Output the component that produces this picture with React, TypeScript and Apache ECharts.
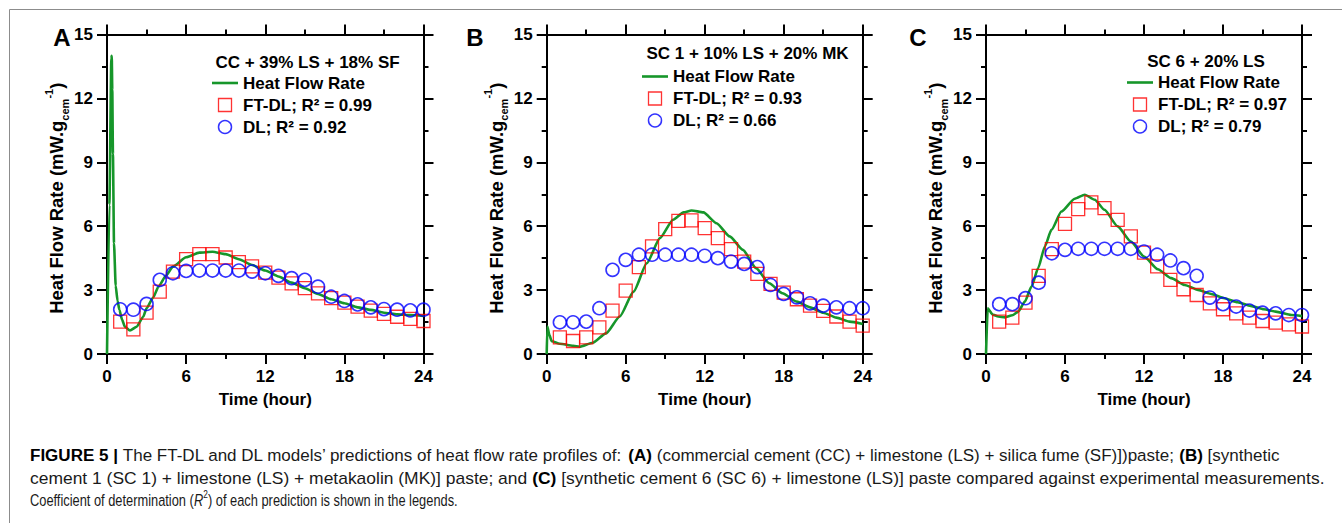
import React, { useEffect, useRef } from "react";
import * as echarts from "echarts";

// ---------- DATA ----------
const HOURS = [1, 2, 3, 4, 5, 6, 7, 8, 9, 10, 11, 12, 13, 14, 15, 16, 17, 18, 19, 20, 21, 22, 23, 24];

const A_FTDL = [1.52, 1.16, 1.94, 2.93, 3.87, 4.45, 4.69, 4.69, 4.53, 4.31, 4.11, 3.82, 3.59, 3.32, 3.09, 2.85, 2.62, 2.41, 2.22, 2.04, 1.88, 1.75, 1.65, 1.55];
const A_DL = [2.1, 2.08, 2.35, 3.48, 3.79, 3.9, 3.92, 3.92, 3.92, 3.92, 3.87, 3.79, 3.67, 3.56, 3.48, 3.16, 2.69, 2.49, 2.33, 2.19, 2.11, 2.08, 2.05, 2.08];
const A_LINE_T = [0, 0.18, 0.33, 0.36, 0.4, 0.45, 0.53, 0.66, 0.8, 0.94, 1.15, 1.36, 1.74, 2.25, 2.75, 3, 3.5, 3.9, 4.5, 5, 6, 7, 8, 9, 10, 11, 12, 13, 14, 15, 16, 17, 18, 19, 20, 21, 22, 23, 24];
const A_LINE_V = [0, 7, 13.9, 14, 12.4, 9.4, 5.2, 3.2, 2.5, 2.07, 1.6, 1.28, 1.1, 1.28, 1.75, 2.15, 2.65, 3.16, 3.7, 4.1, 4.54, 4.76, 4.8, 4.69, 4.45, 4.18, 3.92, 3.64, 3.35, 3.09, 2.82, 2.57, 2.38, 2.19, 2.07, 1.94, 1.86, 1.83, 1.79];

const B_FTDL = [0.78, 0.61, 0.78, 1.25, 2.04, 2.98, 4.08, 5.05, 5.86, 6.25, 6.27, 5.91, 5.44, 4.92, 4.34, 3.76, 3.29, 2.88, 2.57, 2.27, 2.02, 1.76, 1.52, 1.33];
const B_DL = [1.49, 1.49, 1.52, 2.15, 3.95, 4.42, 4.66, 4.66, 4.66, 4.66, 4.66, 4.61, 4.5, 4.34, 4.23, 4.08, 3.24, 2.82, 2.66, 2.38, 2.27, 2.19, 2.15, 2.15];
const B_LINE_T = [0, 0.05, 0.2, 0.38, 1, 2, 2.5, 3.5, 4.5, 5.55, 6.6, 7.6, 8.6, 9.6, 10.4, 11, 11.9, 12.9, 13.9, 14.9, 15.9, 16.9, 17.9, 19, 20, 21, 22, 23, 24];
const B_LINE_V = [0, 1.29, 0.9, 0.6, 0.48, 0.38, 0.34, 0.53, 0.97, 1.76, 2.93, 4.26, 5.44, 6.3, 6.65, 6.74, 6.65, 6.14, 5.52, 4.89, 4.03, 3.32, 2.85, 2.46, 2.19, 1.94, 1.71, 1.52, 1.41];

const C_FTDL = [1.52, 1.71, 2.41, 3.67, 4.92, 6.11, 6.8, 7.12, 6.85, 6.3, 5.52, 4.76, 4.11, 3.48, 3.04, 2.77, 2.38, 2.1, 1.91, 1.71, 1.55, 1.47, 1.39, 1.29];
const C_DL = [2.34, 2.34, 2.62, 3.35, 4.73, 4.89, 4.94, 4.94, 4.94, 4.94, 4.94, 4.81, 4.66, 4.39, 4.03, 3.67, 2.65, 2.34, 2.23, 2.04, 1.94, 1.91, 1.83, 1.83];
const C_LINE_T = [0, 0.13, 0.5, 0.93, 1.44, 2, 2.45, 2.95, 3.46, 3.96, 4.47, 4.97, 5.73, 6.74, 7.5, 8.26, 9, 10, 11, 12, 13.05, 14.07, 15.1, 16.1, 17.1, 18.1, 19.1, 20.1, 21.1, 22, 23.2, 24];
const C_LINE_V = [0, 2.15, 1.85, 1.76, 1.72, 1.82, 1.99, 2.46, 3.17, 4.03, 5.05, 5.83, 6.69, 7.29, 7.48, 7.24, 6.77, 5.99, 5.28, 4.58, 3.98, 3.56, 3.24, 3.01, 2.82, 2.62, 2.43, 2.26, 2.1, 1.99, 1.83, 1.78];

const PANEL_LETTERS = ["A", "B", "C"];
const PANEL_TITLES = ["CC + 39% LS + 18% SF", "SC 1 + 10% LS + 20% MK", "SC 6 + 20% LS"];
const LINE_NAME = "Heat Flow Rate";
const FTDL_NAMES = ["FT-DL; R² = 0.99", "FT-DL; R² = 0.93", "FT-DL; R² = 0.97"];
const DL_NAMES = ["DL; R² = 0.92", "DL; R² = 0.66", "DL; R² = 0.79"];
const X_MAX = 24;
const X_INTERVAL = 6;
const Y_MAX = 15;
const Y_INTERVAL = 3;
const X_TITLE = "Time (hour)";

const CAPTION_LINES = [
  [
    { text: "FIGURE 5 | ", bold: true },
    { text: "The FT-DL and DL models’ predictions of heat flow rate profiles of: " },
    { text: "(A)", bold: true },
    { text: " (commercial cement (CC) + limestone (LS) + silica fume (SF)])paste; " },
    { text: "(B)", bold: true },
    { text: " [synthetic" },
  ],
  [
    { text: "cement 1 (SC 1) + limestone (LS) + metakaolin (MK)] paste; and " },
    { text: "(C)", bold: true },
    { text: " [synthetic cement 6 (SC 6) + limestone (LS)] paste compared against experimental measurements." },
  ],
  [
    { text: "Coefficient of determination (" },
    { text: "R", italic: true },
    { text: "2", sup: true },
    { text: ") of each prediction is shown in the legends." },
  ],
];

// ---------- LAYOUT ----------
const FONT = '"Liberation Sans", Arial, Helvetica, sans-serif';
const GRID_TOP = 34.5;
const GRID_H = 319.5;
const LAYOUT = [
  { left: 107, width: 316.5, legendLeft: 212, legendTop: 74, titleX: 307.5, titleY: 62, letterX: 62, letterY: 37 },
  { left: 546.7, width: 316, legendLeft: 642, legendTop: 67.5, titleX: 747.5, titleY: 53, letterX: 475, letterY: 37 },
  { left: 986, width: 316, legendLeft: 1127, legendTop: 73.5, titleX: 1206, titleY: 61, letterX: 918, letterY: 37 },
];
const CAPTION_X = 30;
const CAPTION_Y = [456, 478, 500];
const CAPTION_W = [1249, 1295, 428];
const CAPTION_SIZE = 17;

const GREEN = "#16962a";

function measureLine(segs: any[]) {
  const ctx = document.createElement("canvas").getContext("2d");
  if (!ctx) return 1;
  let w = 0;
  for (const s of segs) {
    const size = s.sup ? 11 : CAPTION_SIZE;
    ctx.font = `${s.italic ? "italic " : ""}${s.bold ? "bold " : ""}${size}px "Liberation Sans"`;
    w += ctx.measureText(s.text).width;
  }
  return w;
}

function buildOption() {
  const lines = [
    { t: A_LINE_T, v: A_LINE_V, f: A_FTDL, d: A_DL },
    { t: B_LINE_T, v: B_LINE_V, f: B_FTDL, d: B_DL },
    { t: C_LINE_T, v: C_LINE_V, f: C_FTDL, d: C_DL },
  ];

  const axisLine = { show: true, onZero: false, lineStyle: { color: "#000", width: 2 } };
  const axisTick = { show: true, inside: false, length: 10, lineStyle: { color: "#000", width: 2 } };
  const minorTick = { show: true, splitNumber: 2, length: 5, lineStyle: { color: "#000", width: 2 } };
  const labelStyle = { fontSize: 17, fontWeight: "bold", color: "#000", fontFamily: FONT };

  const grid: any[] = [];
  const xAxis: any[] = [];
  const yAxis: any[] = [];
  const series: any[] = [];
  const legend: any[] = [];
  const graphic: any[] = [];

  LAYOUT.forEach((L, i) => {
    grid.push({ left: L.left, top: GRID_TOP, width: L.width, height: GRID_H, containLabel: false });
    xAxis.push({
      type: "value", gridIndex: i, position: "bottom", min: 0, max: X_MAX, interval: X_INTERVAL,
      axisLine, axisTick, minorTick, splitLine: { show: false }, minorSplitLine: { show: false },
      axisLabel: { ...labelStyle, margin: 14 },
      name: X_TITLE, nameLocation: "middle", nameGap: 37,
      nameTextStyle: { fontSize: 17, fontWeight: "bold", color: "#000", fontFamily: FONT },
    });
    xAxis.push({
      type: "value", gridIndex: i, position: "top", min: 0, max: X_MAX, interval: X_INTERVAL,
      axisLine, axisTick, minorTick, splitLine: { show: false }, axisLabel: { show: false },
    });
    yAxis.push({
      type: "value", gridIndex: i, position: "left", min: 0, max: Y_MAX, interval: Y_INTERVAL,
      axisLine, axisTick, minorTick, splitLine: { show: false }, minorSplitLine: { show: false },
      axisLabel: { ...labelStyle, margin: 14 },
      name: "{n|Heat Flow Rate (mW.g}{sub|cem}{sup|-1}{n|)}",
      nameLocation: "middle", nameRotate: 90, nameGap: 31,
      nameTextStyle: {
        fontFamily: FONT, color: "#000", padding: [0, 8, 0, 0],
        rich: {
          n: { fontSize: 18.5, fontWeight: "bold", lineHeight: 27, fontFamily: FONT, color: "#000" },
          sub: { fontSize: 11, fontWeight: "bold", lineHeight: 11, verticalAlign: "bottom", fontFamily: FONT, color: "#000" },
          sup: { fontSize: 11, fontWeight: "bold", lineHeight: 11, verticalAlign: "top", fontFamily: FONT, color: "#000" },
        },
      },
    });
    yAxis.push({
      type: "value", gridIndex: i, position: "right", min: 0, max: Y_MAX, interval: Y_INTERVAL,
      axisLine, axisTick, minorTick, splitLine: { show: false }, axisLabel: { show: false },
    });

    const d = lines[i];
    series.push({
      type: "line", name: LINE_NAME, xAxisIndex: 2 * i, yAxisIndex: 2 * i,
      data: d.t.map((t, k) => [t, d.v[k]]),
      symbol: "none", showSymbol: false, smooth: 0.2, smoothMonotone: "x",
      lineStyle: { color: GREEN, width: 2.6 }, itemStyle: { color: GREEN }, silent: true, z: 2,
    });
    series.push({
      type: "scatter", name: FTDL_NAMES[i], xAxisIndex: 2 * i, yAxisIndex: 2 * i,
      data: HOURS.map((h, k) => [h, d.f[k]]),
      symbol: "rect", symbolSize: 13,
      itemStyle: { color: "transparent", borderColor: "#ff0000", borderWidth: 1.3 }, silent: true, z: 3,
    });
    series.push({
      type: "scatter", name: DL_NAMES[i], xAxisIndex: 2 * i, yAxisIndex: 2 * i,
      data: HOURS.map((h, k) => [h, d.d[k]]),
      symbol: "circle", symbolSize: 13,
      itemStyle: { color: "transparent", borderColor: "#0000ff", borderWidth: 1.6 }, silent: true, z: 4,
    });

    legend.push({
      orient: "vertical", left: L.legendLeft, top: L.legendTop, padding: 0,
      itemWidth: 26, itemHeight: 13, itemGap: 4, selectedMode: false,
      textStyle: { fontSize: 17, fontWeight: "bold", color: "#000", fontFamily: FONT, lineHeight: 18 },
      data: [
        { name: LINE_NAME, icon: "path://M0,0H26V2.6H0Z", itemStyle: { color: GREEN, borderWidth: 0 } },
        { name: FTDL_NAMES[i], icon: "path://M0,0H10V10H0Z", itemStyle: { color: "transparent", borderColor: "#ff0000", borderWidth: 1.3 } },
        { name: DL_NAMES[i], icon: "circle", itemStyle: { color: "transparent", borderColor: "#0000ff", borderWidth: 1.5 } },
      ],
    });

    graphic.push({
      type: "text", x: L.titleX, y: L.titleY,
      style: { text: PANEL_TITLES[i], font: `bold 17px ${FONT}`, fill: "#000", align: "center", verticalAlign: "middle", textAlign: "center", textVerticalAlign: "middle" },
    });
    graphic.push({
      type: "text", x: L.letterX, y: L.letterY,
      style: { text: PANEL_LETTERS[i], font: `bold 24px ${FONT}`, fill: "#000", align: "center", verticalAlign: "middle", textAlign: "center", textVerticalAlign: "middle" },
    });
  });

  // figure frame
  graphic.push({ type: "line", shape: { x1: 9.5, y1: 9.5, x2: 1342, y2: 9.5 }, style: { stroke: "#8c8c8c", lineWidth: 1 } });
  graphic.push({ type: "line", shape: { x1: 9.5, y1: 9.5, x2: 9.5, y2: 523 }, style: { stroke: "#8c8c8c", lineWidth: 1 } });

  // caption
  CAPTION_LINES.forEach((segs, li) => {
    const w = measureLine(segs);
    const sx = CAPTION_W[li] / w;
    const text = segs
      .map((s: any) => `{${s.sup ? "sup" : s.italic ? "it" : s.bold ? "b" : "r"}|${s.text}}`)
      .join("");
    graphic.push({
      type: "text", x: CAPTION_X, y: CAPTION_Y[li], scaleX: sx, scaleY: 1,
      style: {
        text, fill: "#1a1a1a", font: `${CAPTION_SIZE}px ${FONT}`,
        align: "left", verticalAlign: "middle", textAlign: "left", textVerticalAlign: "middle",
        rich: {
          r: { fontSize: CAPTION_SIZE, fontFamily: FONT, lineHeight: 22, fill: "#1a1a1a", color: "#1a1a1a" },
          b: { fontSize: CAPTION_SIZE, fontFamily: FONT, fontWeight: "bold", lineHeight: 22, fill: "#000", color: "#000" },
          it: { fontSize: CAPTION_SIZE, fontFamily: FONT, fontStyle: "italic", lineHeight: 22, fill: "#1a1a1a", color: "#1a1a1a" },
          sup: { fontSize: 11, fontFamily: FONT, lineHeight: 13, verticalAlign: "top", fill: "#1a1a1a", color: "#1a1a1a" },
        },
      },
    });
  });

  return {
    animation: false,
    backgroundColor: "#ffffff",
    grid, xAxis, yAxis, series, legend, graphic,
  };
}

export default function App() {
  const ref = useRef<HTMLDivElement>(null);
  useEffect(() => {
    if (!ref.current) return;
    const chart = echarts.init(ref.current, undefined, { renderer: "svg" });
    chart.setOption(buildOption() as any);
    return () => chart.dispose();
  }, []);
  return (
    <div
      ref={ref}
      style={{ position: "fixed", left: 0, top: 0, width: 1342, height: 523, background: "#fff" }}
    />
  );
}
